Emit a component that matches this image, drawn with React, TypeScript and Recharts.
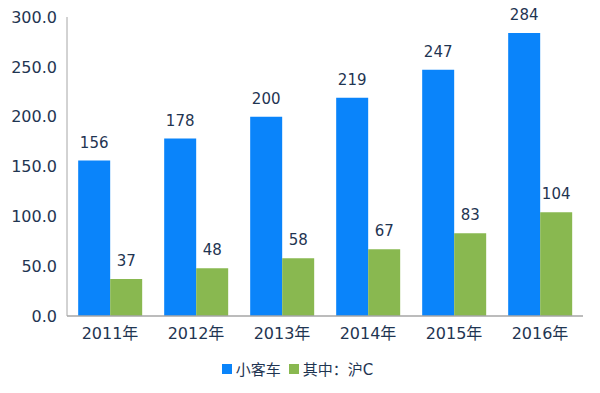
import React from 'react';
import { BarChart, Bar, XAxis, YAxis, Legend, LabelList } from 'recharts';

const years = ['2011年', '2012年', '2013年', '2014年', '2015年', '2016年'];
const cars = [156, 178, 200, 219, 247, 284];
const hu = [37, 48, 58, 67, 83, 104];
const yTicks = [0, 50, 100, 150, 200, 250, 300];
const seriesNames = ['小客车', '其中：沪C'];
const seriesColors = ['#0A84FA', '#89B850'];

const data = years.map((y, i) => ({ year: y, cars: cars[i], hu: hu[i] }));

const TEXT = '#1F3552';
const FONT = '"DejaVu Sans", "Noto Sans CJK SC", sans-serif';

const LegendContent = () => (
  <div style={{ display: 'flex', justifyContent: 'center', alignItems: 'center', fontSize: 15, fontFamily: FONT, color: TEXT, paddingLeft: 12 }}>
    {seriesNames.map((n, i) => (
      <div key={n} style={{ display: 'flex', alignItems: 'center', marginRight: i === 0 ? 8 : 0 }}>
        <span style={{ display: 'inline-block', width: 10, height: 10, background: seriesColors[i], marginRight: 4 }} />
        <span>{n}</span>
      </div>
    ))}
  </div>
);

export default function App() {
  return (
    <div style={{ position: 'absolute', left: 0, top: 0, width: 600, height: 393, background: '#fff', fontFamily: FONT }}>
      <BarChart
        width={600}
        height={393}
        data={data}
        margin={{ top: 17, right: 17, bottom: 16, left: 0 }}
        barCategoryGap="13%"
        barGap={0}
      >
        <XAxis
          dataKey="year"
          axisLine={{ stroke: '#A6A6A6', strokeWidth: 1.5 }}
          tickLine={false}
          tickSize={0}
          tickMargin={12}
          tick={{ fill: TEXT, fontSize: 16, fontFamily: FONT }}
          height={40}
        />
        <YAxis
          width={67}
          domain={[0, 300]}
          ticks={yTicks}
          interval={0}
          axisLine={{ stroke: '#A6A6A6', strokeWidth: 1 }}
          tickLine={false}
          tickSize={0}
          tickMargin={10}
          tickFormatter={(v: number) => v.toFixed(1)}
          tick={{ fill: TEXT, fontSize: 16, fontFamily: FONT }}
        />
        <Legend
          verticalAlign="bottom"
          align="center"
          wrapperStyle={{ bottom: 14 }}
          content={<LegendContent />}
        />
        <Bar dataKey="cars" name={seriesNames[0]} fill={seriesColors[0]} isAnimationActive={false}>
          <LabelList dataKey="cars" position="top" offset={13} fill={TEXT} fontSize={15} fontFamily={FONT} />
        </Bar>
        <Bar dataKey="hu" name={seriesNames[1]} fill={seriesColors[1]} isAnimationActive={false}>
          <LabelList dataKey="hu" position="top" offset={13} fill={TEXT} fontSize={15} fontFamily={FONT} />
        </Bar>
      </BarChart>
    </div>
  );
}
